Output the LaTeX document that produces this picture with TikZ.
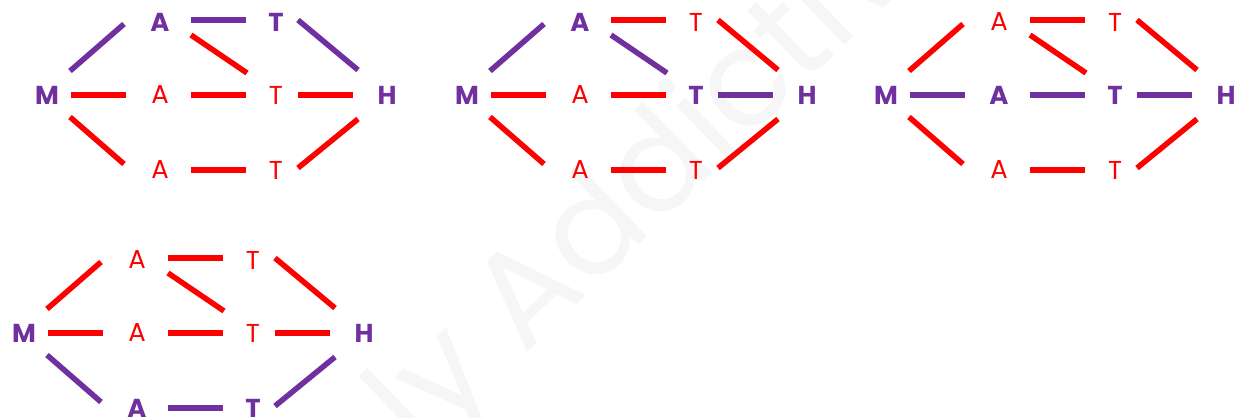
\documentclass[tikz,border=0pt]{standalone}
\usepackage{fontspec}
\setmainfont{Poppins}
\definecolor{hlpurple}{HTML}{7030A0}
\definecolor{lred}{HTML}{FF0000}
\definecolor{wmgray}{HTML}{F6F6F6}
\tikzset{
  lbl/.style={text=lred, font=\fontsize{26}{26}\selectfont, inner sep=0pt},
  hl/.style={text=hlpurple, font=\fontsize{26}{26}\selectfont\bfseries},
  edge/.style={draw=lred, line width=5.5bp, line cap=butt},
  hle/.style={draw=hlpurple},
  wm/.style={text=wmgray, font=\fontsize{135}{135}\selectfont, rotate=44, inner sep=0pt},
  nA1/.style={}, nA2/.style={}, nA3/.style={},
  nT1/.style={}, nT2/.style={}, nT3/.style={},
  eMA1/.style={}, eMA2/.style={}, eMA3/.style={},
  eAT11/.style={}, eAT12/.style={}, eAT22/.style={}, eAT33/.style={},
  eTH1/.style={}, eTH2/.style={}, eTH3/.style={}
}
\newcommand\mathgraph[1]{%
  \node[lbl,hl] (#1M) at (0,0) {M};
  \node[lbl,nA1] (#1A1) at (113,-73) {A};
  \node[lbl,nA2] (#1A2) at (113,0) {A};
  \node[lbl,nA3] (#1A3) at (113,75) {A};
  \node[lbl,nT1] (#1T1) at (229,-73) {T};
  \node[lbl,nT2] (#1T2) at (229,0) {T};
  \node[lbl,nT3] (#1T3) at (229,75) {T};
  \node[lbl,hl] (#1H) at (340,0) {H};
  \draw[edge,eMA1] ([shift={(23,-24)}]#1M.center) -- ([shift={(-36,2)}]#1A1.center);
  \draw[edge,eMA2] ([shift={(24,0)}]#1M.center) -- ([shift={(-34,0)}]#1A2.center);
  \draw[edge,eMA3] ([shift={(23,22)}]#1M.center) -- ([shift={(-36,-6)}]#1A3.center);
  \draw[edge,eAT11] ([shift={(31,-2)}]#1A1.center) -- ([shift={(-30,-2)}]#1T1.center);
  \draw[edge,eAT12] ([shift={(31,13)}]#1A1.center) -- ([shift={(-29,-22)}]#1T2.center);
  \draw[edge,eAT22] ([shift={(31,0)}]#1A2.center) -- ([shift={(-30,0)}]#1T2.center);
  \draw[edge,eAT33] ([shift={(31,0)}]#1A3.center) -- ([shift={(-30,0)}]#1T3.center);
  \draw[edge,eTH1] ([shift={(22,-2)}]#1T1.center) -- ([shift={(-29,-25)}]#1H.center);
  \draw[edge,eTH2] ([shift={(22,0)}]#1T2.center) -- ([shift={(-34,0)}]#1H.center);
  \draw[edge,eTH3] ([shift={(22,-2)}]#1T3.center) -- ([shift={(-29,24)}]#1H.center);
}
\begin{document}
\begin{tikzpicture}[x=1bp,y=-1bp]
\useasboundingbox (0,0) rectangle (1238,417);
\begin{scope}
  \clip (0,0) rectangle (1238,417);
  \node[wm, anchor=base west] (wmA) at (524,356) {Addictive};
  \node[wm, anchor=base east] (wmB) at (499,380) {ly};
\end{scope}
% diagram 1: M-A1-T1-H
\begin{scope}[shift={(47,95)}, nA1/.style=hl, nT1/.style=hl,
  eMA1/.style=hle, eAT11/.style=hle, eTH1/.style=hle]
  \mathgraph{a}
\end{scope}
% diagram 2: M-A1-T2-H
\begin{scope}[shift={(467,95)}, nA1/.style=hl, nT2/.style=hl,
  eMA1/.style=hle, eAT12/.style=hle, eTH2/.style=hle]
  \mathgraph{b}
\end{scope}
% diagram 3: M-A2-T2-H
\begin{scope}[shift={(886,95)}, nA2/.style=hl, nT2/.style=hl,
  eMA2/.style=hle, eAT22/.style=hle, eTH2/.style=hle]
  \mathgraph{c}
\end{scope}
% diagram 4: M-A3-T3-H
\begin{scope}[shift={(24,333)}, nA3/.style=hl, nT3/.style=hl,
  eMA3/.style=hle, eAT33/.style=hle, eTH3/.style=hle]
  \mathgraph{d}
\end{scope}
\end{tikzpicture}
\end{document}
